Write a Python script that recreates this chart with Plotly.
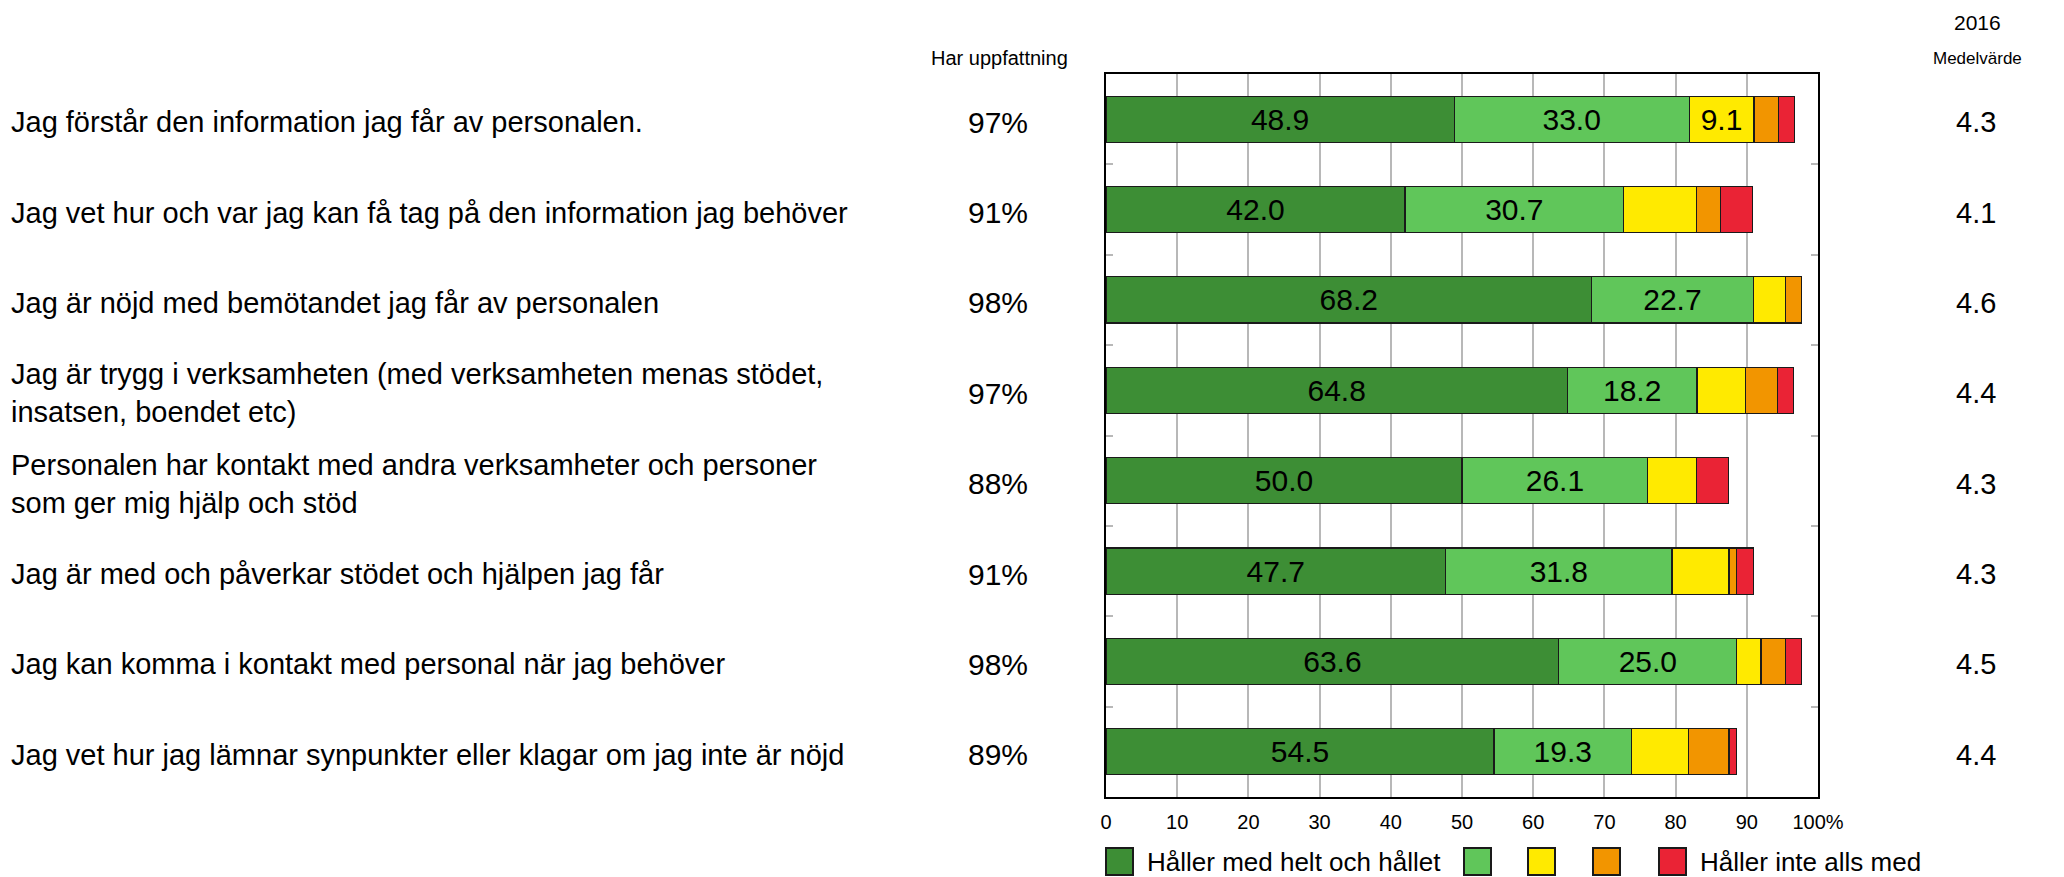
import plotly.graph_objects as go

questions = [
    "Jag förstår den information jag får av personalen.",
    "Jag vet hur och var jag kan få tag på den information jag behöver",
    "Jag är nöjd med bemötandet jag får av personalen",
    "Jag är trygg i verksamheten (med verksamheten menas stödet,<br>insatsen, boendet etc)",
    "Personalen har kontakt med andra verksamheter och personer<br>som ger mig hjälp och stöd",
    "Jag är med och påverkar stödet och hjälpen jag får",
    "Jag kan komma i kontakt med personal när jag behöver",
    "Jag vet hur jag lämnar synpunkter eller klagar om jag inte är nöjd",
]

dark_green = [48.9, 42.0, 68.2, 64.8, 50.0, 47.7, 63.6, 54.5]
light_green = [33.0, 30.7, 22.7, 18.2, 26.1, 31.8, 25.0, 19.3]
yellow = [9.1, 10.2, 4.5, 6.8, 6.8, 8.0, 3.4, 8.0]
orange = [3.4, 3.4, 2.3, 4.5, None, 1.1, 3.4, 5.7]
red = [2.3, 4.5, None, 2.3, 4.5, 2.3, 2.3, 1.1]

yellow_labels = ["9.1", "", "", "", "", "", "", ""]

har_uppfattning = ["97%", "91%", "98%", "97%", "88%", "91%", "98%", "89%"]
medelvarde = ["4.3", "4.1", "4.6", "4.4", "4.3", "4.3", "4.5", "4.4"]

x_ticks = [0, 10, 20, 30, 40, 50, 60, 70, 80, 90, 100]
x_ticktext = ["0", "10", "20", "30", "40", "50", "60", "70", "80", "90", "100%"]

legend_names = ["Håller med helt och hållet", "", "", "", "Håller inte alls med"]
colors = ["#3d8e35", "#60c65a", "#ffea00", "#f29500", "#ea2335"]

FONT = "Liberation Sans, Arial, sans-serif"

W, H = 2064, 877
L, R, T, B = 1106, 246, 74, 80
PW = W - L - R
PH = H - T - B


def px_x(p):
    return (p - L) / PW


def px_y(p):
    return (H - B - p) / PH


series = [dark_green, light_green, yellow, orange, red]
texts = [
    [f"{v:.1f}" for v in dark_green],
    [f"{v:.1f}" for v in light_green],
    yellow_labels,
    None,
    None,
]

fig = go.Figure()
for vals, col, name, txt in zip(series, colors, ["Håller med helt och hållet", "2", "3", "4", "Håller inte alls med"], texts):
    fig.add_trace(go.Bar(
        y=questions, x=vals, orientation="h", name=name,
        marker=dict(color=col, line=dict(color="#1a1a1a", width=1.2)),
        text=txt, textposition="inside" if txt else "none",
        insidetextanchor="middle", textangle=0,
        textfont=dict(family=FONT, size=30, color="black"),
        constraintext="none",
        showlegend=False,
    ))

annotations = []
for q, h, m in zip(questions, har_uppfattning, medelvarde):
    annotations.append(dict(
        x=px_x(9), y=q, xref="paper", yref="y", text=q, showarrow=False,
        xanchor="left", yanchor="middle", align="left", yshift=-3,
        font=dict(family=FONT, size=29, color="black"),
    ))
    annotations.append(dict(
        x=px_x(998), y=q, xref="paper", yref="y", text=h, showarrow=False,
        xanchor="center", yanchor="middle", yshift=-3,
        font=dict(family=FONT, size=30, color="black"),
    ))
    annotations.append(dict(
        x=px_x(1976), y=q, xref="paper", yref="y", text=m, showarrow=False,
        xanchor="center", yanchor="middle", yshift=-3,
        font=dict(family=FONT, size=29, color="black"),
    ))

annotations.append(dict(x=px_x(999), y=px_y(58), xref="paper", yref="paper",
                        text="Har uppfattning", showarrow=False, xanchor="center", yanchor="middle",
                        font=dict(family=FONT, size=20, color="black")))
annotations.append(dict(x=px_x(1977), y=px_y(58), xref="paper", yref="paper",
                        text="Medelvärde", showarrow=False, xanchor="center", yanchor="middle",
                        font=dict(family=FONT, size=17, color="black")))
annotations.append(dict(x=px_x(1977), y=px_y(22), xref="paper", yref="paper",
                        text="2016", showarrow=False, xanchor="center", yanchor="middle",
                        font=dict(family=FONT, size=21, color="black")))

# legend (drawn manually to match the large square keys)
legend_x = [1106, 1464, 1528, 1593, 1659]
shapes = []
for lx, col, name in zip(legend_x, colors, legend_names):
    shapes.append(dict(type="rect", xref="paper", yref="paper",
                       x0=px_x(lx), x1=px_x(lx + 27), y0=px_y(848), y1=px_y(875),
                       fillcolor=col, line=dict(color="#1a1a1a", width=2)))
    if name:
        annotations.append(dict(x=px_x(lx + 39), y=px_y(862), xref="paper", yref="paper",
                                text=name, showarrow=False, xanchor="left", yanchor="middle",
                                font=dict(family=FONT, size=26, color="black")))

fig.update_layout(
    width=W, height=H,
    margin=dict(l=L, r=R, t=T, b=B, pad=0),
    barmode="stack", bargap=0.49,
    paper_bgcolor="white", plot_bgcolor="white",
    font=dict(family=FONT, color="black"),
    xaxis=dict(range=[0, 100], tickvals=x_ticks, ticktext=x_ticktext,
               showgrid=True, gridcolor="#b8b8b8", gridwidth=2,
               showline=True, linecolor="black", linewidth=2, mirror=True,
               ticks="", ticklabelstandoff=6,
               tickfont=dict(family=FONT, size=20, color="black"),
               zeroline=False, fixedrange=True),
    yaxis=dict(categoryorder="array", categoryarray=questions, autorange="reversed",
               showticklabels=False, showgrid=False, zeroline=False,
               showline=True, linecolor="black", linewidth=2, mirror="ticks",
               ticks="inside", tickson="boundaries", ticklen=7, tickwidth=2,
               tickcolor="#b8b8b8", fixedrange=True),
    annotations=annotations,
    shapes=shapes,
)

fig.write_html(
    "out.html",
    config={"displayModeBar": False},
    post_script="document.body.style.margin='0';document.body.style.padding='0';document.body.style.overflow='hidden';",
)
